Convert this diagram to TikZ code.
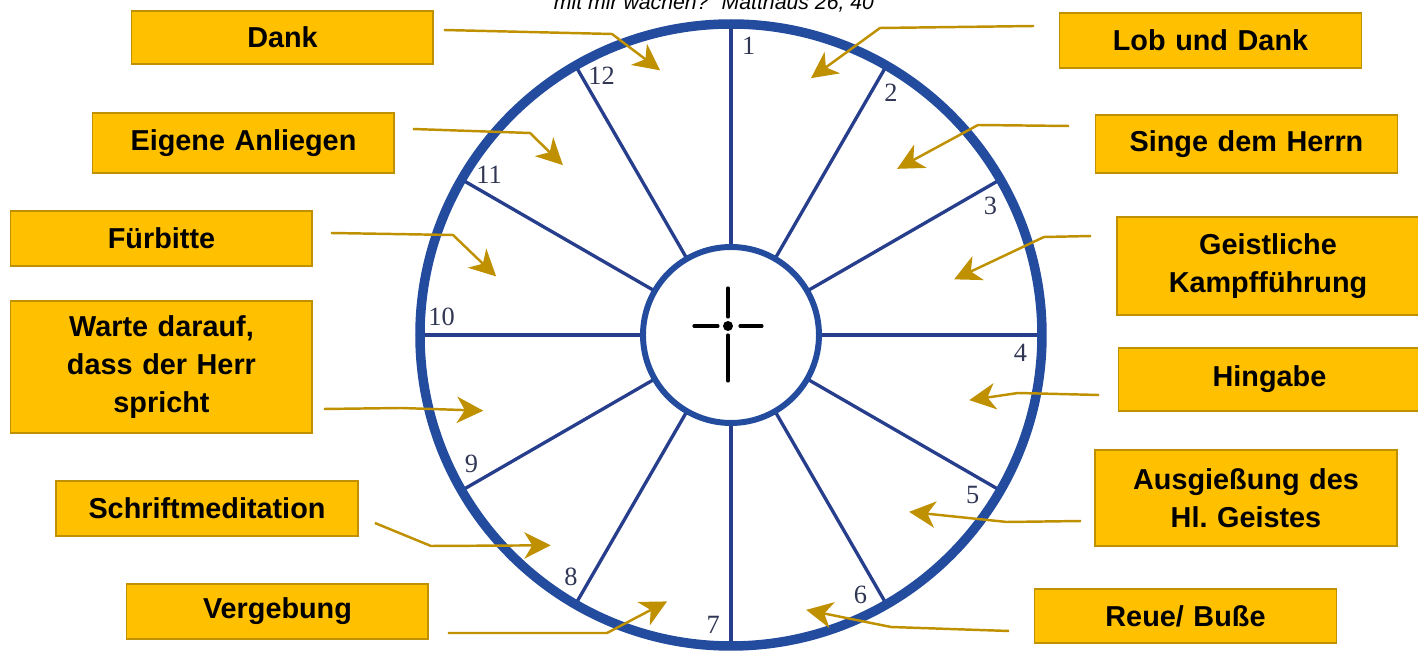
\documentclass[tikz,border=0pt]{standalone}
\usepackage{fontspec}
\usetikzlibrary{arrows.meta,calc}
\newfontfamily\labelfont{Liberation Sans}
\newfontfamily\hourfont{Liberation Serif}
\definecolor{boxgold}{RGB}{255,192,0}
\definecolor{boxedge}{RGB}{191,144,0}
\definecolor{wheelblue}{RGB}{36,76,158}
\definecolor{spokeblue}{RGB}{38,62,140}
\definecolor{numgray}{RGB}{48,54,84}

\begin{document}
\begin{tikzpicture}[x=0.02cm,y=0.02cm,>={Stealth[length=15pt,width=15pt,inset=4.5pt]},
	prayer/.style={draw=boxedge,fill=boxgold,line width=1.1pt,text width=5.7cm,
		align=center,minimum width=6.04cm,inner sep=2pt,
		font=\labelfont\bfseries\fontsize{16.4}{21.5}\selectfont},
	pointer/.style={->,draw=boxedge,line width=1.4pt}]
		
		\useasboundingbox (-731,-320) rectangle (687,335);
		\clip (-731,-320) rectangle (687,335);
		
		%----------------------------------------
		% Verse line (cut at the top edge)
		%----------------------------------------
		\node[anchor=base,inner sep=0pt,font=\labelfont\itshape\fontsize{12.1}{14}\selectfont]
		(verse) at (-17,325) {mit mir wachen?“ Matthäus 26, 40};
		
		%----------------------------------------
		% Wheel: spokes, outer ring, hub
		%----------------------------------------
		\coordinate (M) at (0,0);
		\foreach \k in {0,...,11}
		\draw[spokeblue,line width=1.9pt] ({90-30*\k}:88) -- ({90-30*\k}:311);
		
		\draw[wheelblue,line width=5.4pt] (M) circle (311);
		\draw[wheelblue,line width=3.4pt] (M) circle (88);
		
		%----------------------------------------
		% Hour numbers
		%----------------------------------------
		\foreach \n in {1,...,12}
		\node[text=numgray,font=\hourfont\fontsize{15}{15}\selectfont,inner sep=0pt]
		(n\n) at ({90-30*(\n-1)-3.5}:290) {\n};
		
		%----------------------------------------
		% Cross in the hub
		%----------------------------------------
		\coordinate (X) at (-3,9);
		\draw[line width=1.8pt,line cap=round] ($(X)+(0,9)$) -- ($(X)+(0,38)$);
		\draw[line width=1.8pt,line cap=round] ($(X)+(0,-9)$) -- ($(X)+(0,-55)$);
		\draw[line width=1.8pt,line cap=round] ($(X)+(-10,0)$) -- ($(X)+(-34,0)$);
		\draw[line width=1.8pt,line cap=round] ($(X)+(12,0)$) -- ($(X)+(34,0)$);
		\fill (X) circle (5);
		
		%----------------------------------------
		% Arrow tips inside the sectors
		%----------------------------------------
		\foreach \k/\a/\r in {1/72.7/269,2/45/235,3/14/230,4/-15.3/247,5/-44.8/251,6/-74.7/285,
			7/256.5/274,8/229.4/277,9/197/259,10/166/242,11/134.7/239,12/105/274}
		\coordinate (s\k) at (\a:\r);
		
		%----------------------------------------
		% Boxes, left side
		%----------------------------------------
		\node[prayer,minimum height=1.06cm] (dank) at (-448.5,297.5) {Dank};
		\node[prayer,minimum height=1.2cm] (eigene) at (-487.5,192) {Eigene Anliegen};
		\node[prayer,minimum height=1.1cm] (fuerbitte) at (-569.5,96.5) {Fürbitte};
		\node[prayer,minimum height=2.64cm] (warte) at (-569.5,-32) {Warte darauf,\\dass der Herr\\spricht};
		\node[prayer,minimum height=1.1cm] (schrift) at (-524,-173.5) {Schriftmeditation};
		\node[prayer,minimum height=1.1cm] (vergebung) at (-453.5,-276.5) {Vergebung};
		
		%----------------------------------------
		% Boxes, right side
		%----------------------------------------
		\node[prayer,minimum height=1.1cm] (lob) at (479.5,294.5) {Lob und Dank};
		\node[prayer,minimum height=1.16cm] (singe) at (515.5,191) {Singe dem Herrn};
		\node[prayer,minimum height=1.96cm] (geist) at (537,69) {Geistliche\\Kampfführung};
		\node[prayer,minimum height=1.26cm] (hingabe) at (538.5,-44.5) {Hingabe};
		\node[prayer,minimum height=1.92cm] (ausg) at (515,-163) {Ausgießung des\\Hl.\ Geistes};
		\node[prayer,minimum height=1.08cm] (reue) at (454.5,-281) {Reue/ Buße};
		
		%----------------------------------------
		% Pointers from the boxes into the sectors
		%----------------------------------------
		\draw[pointer] ([shift={(9.5,7.5)}]dank.east) -- (-119,301) -- (s12);
		\draw[pointer] ([shift={(17.5,14)}]eigene.east) -- (-201,202) -- (s11);
		\draw[pointer] ([shift={(17.5,5.5)}]fuerbitte.east) -- (-278,100) -- (s10);
		\draw[pointer] ([shift={(10.5,-42)}]warte.east) -- (-330,-73) -- (s9);
		\draw[pointer] ([shift={(16,-14.5)}]schrift.east) -- (-300,-211) -- (s8);
		\draw[pointer] ([shift={(18.5,-21.5)}]vergebung.east) -- (-124,-298) -- (s7);
		
		\draw[pointer] ([shift={(-24.5,14.5)}]lob.west) -- (149,307) -- (s1);
		\draw[pointer] ([shift={(-25.5,18)}]singe.west) -- (247,210) -- (s2);
		\draw[pointer] ([shift={(-25,30)}]geist.west) -- (313,98) -- (s3);
		\draw[pointer] ([shift={(-18.5,-15.5)}]hingabe.west) -- (287,-58) -- (s4);
		\draw[pointer] ([shift={(-13,-23)}]ausg.west) -- (276,-187) -- (s5);
		\draw[pointer] ([shift={(-24.5,-15)}]reue.west) -- (160,-292) -- (s6);
		
	\end{tikzpicture}
\end{document}
